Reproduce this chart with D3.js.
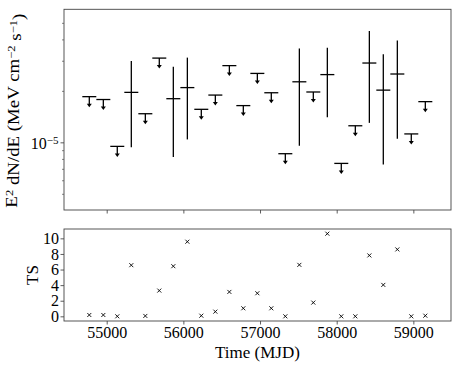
<!DOCTYPE html>
<html>
<head>
<meta charset="utf-8">
<script src="https://cdn.jsdelivr.net/npm/d3@7"></script>
<style>
  body { margin: 0; background: #fff; }
  text { font-family: "Liberation Serif", "DejaVu Serif", serif; fill: #000; }
</style>
</head>
<body>
<div id="wrapper"></div>
<script>
/* DATA */
const times = [54773, 54956, 55138, 55321, 55504, 55686, 55869, 56052, 56234, 56417,
  56600, 56782, 56965, 57147, 57330, 57513, 57695, 57878, 58060, 58243,
  58426, 58608, 58791, 58973, 59156];
const binHalfWidth = 91.3;
// flux (or upper limit when isLimit)
const flux = [1.85e-5, 1.78e-5, 9.47e-6, 1.96e-5, 1.47e-5, 3.11e-5, 1.80e-5, 2.09e-5, 1.56e-5, 1.89e-5,
  2.81e-5, 1.64e-5, 2.53e-5, 1.95e-5, 8.58e-6, 2.26e-5, 1.97e-5, 2.49e-5, 7.53e-6, 1.25e-5,
  2.91e-5, 2.02e-5, 2.51e-5, 1.12e-5, 1.73e-5];
const fluxLow = [null, null, null, 9.35e-6, null, null, 8.2e-6, 1.04e-5, null, null,
  null, null, null, null, null, 9.55e-6, null, 1.40e-5, null, null,
  1.30e-5, 7.43e-6, 1.05e-5, null, null];
const fluxHigh = [null, null, null, 2.99e-5, null, null, 2.77e-5, 3.13e-5, null, null,
  null, null, null, null, null, 3.54e-5, null, 3.57e-5, null, null,
  4.48e-5, 3.28e-5, 3.94e-5, null, null];
const isLimit = [true, true, true, false, true, true, false, false, true, true,
  true, true, true, true, true, false, true, false, true, true,
  false, false, false, true, true];
const ts = [0.17, 0.17, 0.0, 6.56, 0.05, 3.3, 6.43, 9.57, 0.08, 0.6,
  3.13, 1.03, 2.96, 1.03, 0.0, 6.6, 1.76, 10.6, 0.0, 0.0,
  7.81, 4.03, 8.58, 0.0, 0.08];
const timeTicks = [55000, 56000, 57000, 58000, 59000];
const tsTicks = [0, 2, 4, 6, 8, 10];

/* DIMENSIONS */
const width = 460;
const height = 368;
const left = 64;
const right = 451;
const top1 = { top: 9.3, bottom: 210 };
const top2 = { top: 229, bottom: 321 };

/* SCALES */
const xScale = d3.scaleLinear().domain([54443, 59491]).range([left, right]);
const yScale = d3.scaleLog().domain([4.02e-6, 6.0e-5]).range([top1.bottom, top1.top]);
const tsScale = d3.scaleLinear().domain([-0.6, 11.2]).range([top2.bottom, top2.top]);

const svg = d3.select("#wrapper").append("svg")
  .attr("width", width)
  .attr("height", height);

/* TOP PANEL AXES */
const minorTicks = yScale.ticks().filter(v => {
  const y = yScale(v);
  return y > top1.top + 0.5 && y < top1.bottom - 0.5 && Math.abs(Math.log10(v) - Math.round(Math.log10(v))) > 1e-6;
});
svg.append("g")
  .attr("transform", `translate(${left},0)`)
  .call(d3.axisLeft(yScale).tickValues(minorTicks).tickSize(2).tickFormat(""))
  .call(g => g.select(".domain").remove())
  .call(g => g.selectAll("line").attr("stroke", "#333").attr("stroke-width", 0.6));

const majorAxis = svg.append("g")
  .attr("transform", `translate(${left},0)`)
  .call(d3.axisLeft(yScale).tickValues([1e-5]).tickSize(3.5).tickPadding(2).tickFormat(""))
  .call(g => g.select(".domain").remove())
  .call(g => g.selectAll("line").attr("stroke", "#333").attr("stroke-width", 0.8));
majorAxis.selectAll(".tick text")
  .attr("font-size", 16)
  .attr("dy", "0.4em")
  .call(t => {
    t.append("tspan").text("10");
    t.append("tspan").attr("dy", "-0.45em").attr("font-size", 11).text("\u22125");
  });

svg.append("g")
  .attr("transform", `translate(0,${top1.bottom})`)
  .call(d3.axisBottom(xScale).tickValues(timeTicks).tickSize(3.5).tickFormat(""))
  .call(g => g.select(".domain").remove())
  .call(g => g.selectAll("line").attr("stroke", "#333").attr("stroke-width", 0.8));

svg.append("rect")
  .attr("x", left).attr("y", top1.top)
  .attr("width", right - left).attr("height", top1.bottom - top1.top)
  .attr("fill", "none").attr("stroke", "#444").attr("stroke-width", 0.9);

/* TOP PANEL DATA */
const lc = svg.append("g").attr("stroke", "#000").attr("stroke-width", 1.3).attr("fill", "none");
const points = times.map((t, i) => ({ t, f: flux[i], lo: fluxLow[i], hi: fluxHigh[i], lim: isLimit[i] }));

lc.selectAll(".xerr").data(points).join("line")
  .attr("x1", d => xScale(d.t - binHalfWidth))
  .attr("x2", d => xScale(d.t + binHalfWidth))
  .attr("y1", d => yScale(d.f))
  .attr("y2", d => yScale(d.f));

lc.selectAll(".yerr").data(points.filter(d => !d.lim)).join("line")
  .attr("x1", d => xScale(d.t)).attr("x2", d => xScale(d.t))
  .attr("y1", d => yScale(d.hi)).attr("y2", d => yScale(d.lo));

const limits = points.filter(d => d.lim);
lc.selectAll(".ul").data(limits).join("line")
  .attr("x1", d => xScale(d.t)).attr("x2", d => xScale(d.t))
  .attr("y1", d => yScale(d.f)).attr("y2", d => yScale(d.f) + 8);

svg.append("g").selectAll("path").data(limits).join("path")
  .attr("d", d => {
    const x = xScale(d.t), y = yScale(d.f) + 7;
    return `M${x - 2.5},${y} L${x + 2.5},${y} L${x},${y + 3.5} Z`;
  })
  .attr("fill", "#000");

/* Y LABEL TOP */
const yl = svg.append("text")
  .attr("transform", `translate(17,${(top1.top + top1.bottom) / 2 + 1}) rotate(-90)`)
  .attr("text-anchor", "middle")
  .attr("font-size", 16.5)
  .attr("textLength", 194)
  .attr("lengthAdjust", "spacingAndGlyphs");
yl.append("tspan").text("E");
yl.append("tspan").attr("dy", "-0.4em").attr("font-size", 11).text("2");
yl.append("tspan").attr("dy", "0.4em").text(" dN/dE (MeV cm");
yl.append("tspan").attr("dy", "-0.4em").attr("font-size", 11).text("\u22122");
yl.append("tspan").attr("dy", "0.4em").text(" s");
yl.append("tspan").attr("dy", "-0.4em").attr("font-size", 11).text("\u22121");
yl.append("tspan").attr("dy", "0.4em").text(")");

/* BOTTOM PANEL */
svg.append("g")
  .attr("transform", `translate(${left},0)`)
  .call(d3.axisLeft(tsScale).tickValues(tsTicks).tickSize(3.5).tickPadding(1.5))
  .call(g => g.select(".domain").remove())
  .call(g => g.selectAll("line").attr("stroke", "#333").attr("stroke-width", 0.8))
  .call(g => g.selectAll("text").attr("font-size", 16).attr("font-family", "Liberation Serif"));

svg.append("g")
  .attr("transform", `translate(0,${top2.bottom})`)
  .call(d3.axisBottom(xScale).tickValues(timeTicks).tickSize(3.5).tickPadding(2).tickFormat(d3.format("d")))
  .call(g => g.select(".domain").remove())
  .call(g => g.selectAll("line").attr("stroke", "#333").attr("stroke-width", 0.8))
  .call(g => g.selectAll("text").attr("font-size", 16).attr("font-family", "Liberation Serif"));

svg.append("rect")
  .attr("x", left).attr("y", top2.top)
  .attr("width", right - left).attr("height", top2.bottom - top2.top)
  .attr("fill", "none").attr("stroke", "#444").attr("stroke-width", 0.9);

svg.append("g").attr("stroke", "#000").attr("stroke-width", 0.9)
  .selectAll("path").data(times.map((t, i) => ({ t, v: ts[i] }))).join("path")
  .attr("d", d => {
    const x = xScale(d.t), y = tsScale(d.v), s = 2;
    return `M${x - s},${y - s}L${x + s},${y + s}M${x - s},${y + s}L${x + s},${y - s}`;
  });

svg.append("text")
  .attr("transform", `translate(38,${(top2.top + top2.bottom) / 2}) rotate(-90)`)
  .attr("text-anchor", "middle")
  .attr("font-size", 17)
  .text("TS");

svg.append("text")
  .attr("x", (left + right) / 2).attr("y", 358)
  .attr("text-anchor", "middle")
  .attr("font-size", 17)
  .text("Time (MJD)");
</script>
</body>
</html>
